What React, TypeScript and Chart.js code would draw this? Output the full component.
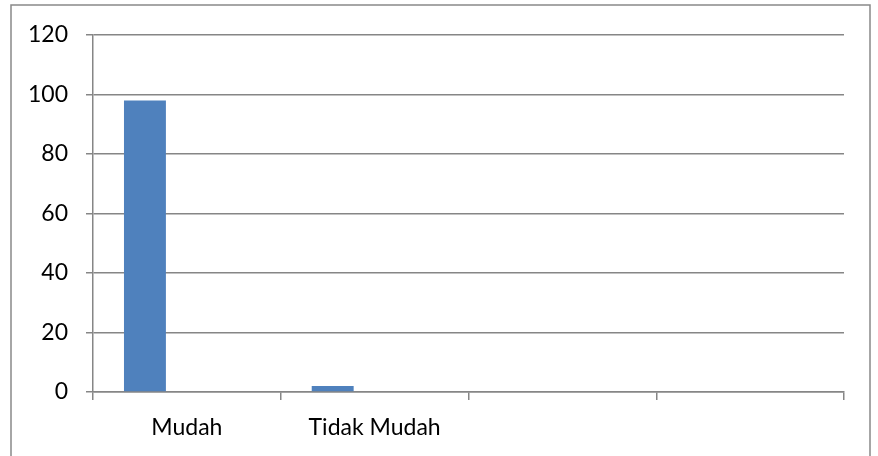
import React, { useEffect, useRef } from "react";
import { Chart, registerables } from "chart.js";

Chart.register(...registerables);

const categories = ["Mudah", "Tidak Mudah", "", ""];
const series1 = [98, 2, null, null];
const series2 = [null, null, null, null];
const series3 = [null, null, null, null];
const yTicks = [0, 20, 40, 60, 80, 100, 120];

const FONT = "Lato, 'Noto Sans', sans-serif";
const GRID = "#868686";

const frame = {
  id: "frame",
  beforeDraw(chart: any) {
    const ctx = chart.ctx;
    ctx.save();
    ctx.fillStyle = "#ffffff";
    ctx.fillRect(0, 0, chart.width, chart.height);
    ctx.strokeStyle = "#898989";
    ctx.lineWidth = 1.5;
    ctx.strokeRect(11, 5, 859, 470);
    ctx.restore();
  },
};

export default function App() {
  const ref = useRef<HTMLCanvasElement | null>(null);
  useEffect(() => {
    if (!ref.current) return;
    const chart = new Chart(ref.current, {
      type: "bar",
      data: {
        labels: categories,
        datasets: [
          { label: "Series 1", data: series1 as any, backgroundColor: "#4F81BD" },
          { label: "Series 2", data: series2 as any, backgroundColor: "#C0504D" },
          { label: "Series 3", data: series3 as any, backgroundColor: "#9BBB59" },
        ],
      },
      plugins: [frame],
      options: {
        animation: false,
        responsive: false,
        maintainAspectRatio: false,
        layout: { padding: { left: 0, right: 34, top: 35, bottom: 0 } },
        datasets: { bar: { categoryPercentage: 0.67, barPercentage: 1 } },
        plugins: { legend: { display: false }, tooltip: { enabled: false } },
        scales: {
          x: {
            offset: true,
            grid: {
              offset: true,
              drawOnChartArea: false,
              drawTicks: true,
              tickLength: 8,
              color: GRID,
              lineWidth: 1.5,
            },
            border: { color: GRID, width: 1.5 },
            ticks: {
              color: "#000",
              font: { family: FONT, size: 23 },
              padding: 14,
              maxRotation: 0,
              autoSkip: false,
            },
            afterFit(scale: any) {
              scale.height = 456 - 392;
            },
          },
          y: {
            min: 0,
            max: 120,
            afterBuildTicks(scale: any) {
              scale.ticks = yTicks.map((v) => ({ value: v }));
            },
            grid: { color: GRID, lineWidth: 1.5, tickLength: 7 },
            border: { color: GRID, width: 1.5 },
            ticks: {
              color: "#000",
              font: { family: FONT, size: 23 },
              padding: 18,
            },
            afterFit(scale: any) {
              scale.width = 93;
            },
          },
        },
      },
    });
    return () => chart.destroy();
  }, []);
  return (
    <div style={{ position: "fixed", left: 0, top: 0, width: 878, height: 456 }}>
      <canvas ref={ref} width={878} height={456} style={{ display: "block" }} />
    </div>
  );
}
